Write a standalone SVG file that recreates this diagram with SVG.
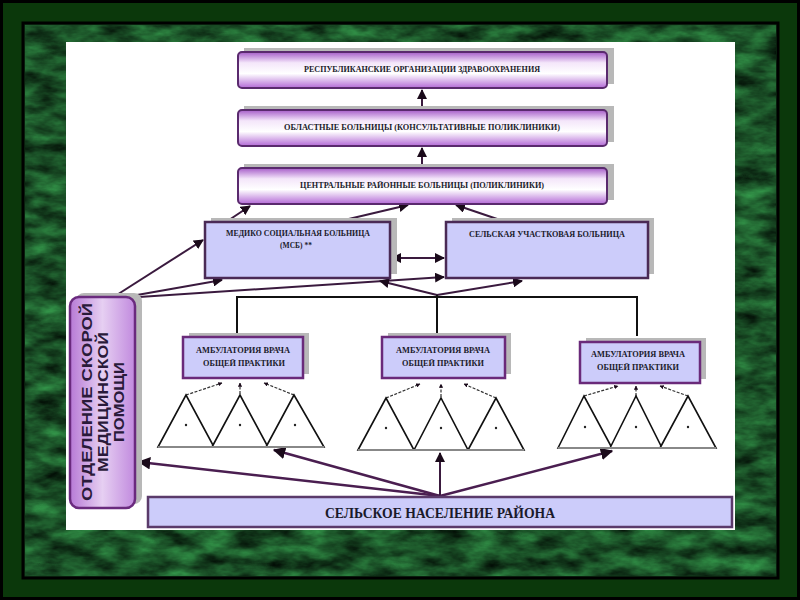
<svg xmlns="http://www.w3.org/2000/svg" width="800" height="600" viewBox="0 0 800 600">
<defs>
  <filter id="marble" x="0" y="0" width="100%" height="100%" color-interpolation-filters="sRGB">
    <feTurbulence type="fractalNoise" baseFrequency="0.03 0.07" numOctaves="4" seed="7" result="n"/>
    <feColorMatrix in="n" type="matrix" values="0.25 0 0 0 -0.02  0.7 0 0 0 -0.03  0.35 0 0 0 -0.02  0 0 0 0 1"/>
  </filter>
  <linearGradient id="gPurp" x1="0" y1="0" x2="0" y2="1">
    <stop offset="0" stop-color="#a55cc8"/>
    <stop offset="0.3" stop-color="#f4e6fa"/>
    <stop offset="0.6" stop-color="#ffffff"/>
    <stop offset="1" stop-color="#b36ad6"/>
  </linearGradient>
  <linearGradient id="gSide" x1="0" y1="0" x2="1" y2="0">
    <stop offset="0" stop-color="#b77ad6"/>
    <stop offset="0.5" stop-color="#e6cff2"/>
    <stop offset="1" stop-color="#c18ade"/>
  </linearGradient>
  <marker id="ah" viewBox="0 0 10 10" refX="9" refY="5" markerWidth="5" markerHeight="5" orient="auto-start-reverse">
    <path d="M0,0 L10,5 L0,10 z" fill="#1a0a1a"/>
  </marker>
  <marker id="ahs" viewBox="0 0 10 10" refX="9" refY="5" markerWidth="3.5" markerHeight="3.5" orient="auto-start-reverse">
    <path d="M0,0 L10,5 L0,10 z" fill="#1a0a1a"/>
  </marker>
</defs>
<style>
  .grad{fill:url(#gPurp);stroke:#5a2a6e;stroke-width:2}
  .lav{fill:#ccccfa;stroke:#4a2a55;stroke-width:2.5}
  .shadow{fill:#b8b8b8}
  .t{font-family:"Liberation Serif",serif;font-weight:bold;fill:#1a1a2a;text-anchor:middle}
  .s{font-size:7.5px}
  .conn{stroke:#3a1a3e;stroke-width:2;fill:none}
  .bus{stroke:#111;stroke-width:2;fill:none}
  .pop{stroke:#4a1e50;stroke-width:2.5;fill:none}
  .tri{fill:#fff;stroke:#111;stroke-width:1.6}
  .dash{stroke:#333;stroke-width:1.2;stroke-dasharray:3 1.5;fill:none}
</style>
<rect x="0" y="0" width="800" height="600" fill="#0b380b"/>
<rect x="1.5" y="1.5" width="797" height="597" fill="none" stroke="#000" stroke-width="3"/>
<rect x="23" y="23" width="755" height="555" fill="#123d1a" stroke="#000" stroke-width="3"/>
<rect x="25" y="25" width="751" height="551" filter="url(#marble)"/>
<rect x="66" y="42" width="669" height="488" fill="#ffffff"/>

<g id="connectors">
  <line class="conn" x1="422" y1="109" x2="422" y2="90" marker-end="url(#ah)"/>
  <line class="conn" x1="422" y1="167" x2="422" y2="148" marker-end="url(#ah)"/>
  <line class="conn" x1="226" y1="222" x2="250" y2="206" marker-end="url(#ah)"/>
  <line class="conn" x1="336" y1="222" x2="408" y2="205" marker-end="url(#ah)"/>
  <line class="conn" x1="506" y1="222" x2="456" y2="205" marker-end="url(#ah)"/>
  <line class="conn" x1="392" y1="258" x2="444" y2="258" marker-start="url(#ah)" marker-end="url(#ah)" stroke-width="1.3"/>
  <line class="conn" x1="112" y1="298" x2="203" y2="240" marker-end="url(#ah)"/>
  <line class="conn" x1="120" y1="298" x2="222" y2="280" marker-end="url(#ah)"/>
  <line class="conn" x1="124" y1="298" x2="444" y2="277" marker-end="url(#ah)"/>
  <line class="conn" x1="437" y1="295" x2="380" y2="281" marker-end="url(#ah)"/>
  <line class="conn" x1="437" y1="295" x2="522" y2="281" marker-end="url(#ah)"/>
  <polyline class="bus" points="237,336 237,297 637,297 637,336"/>
  <line class="bus" x1="437" y1="295" x2="437" y2="336"/>
  <line class="dash" x1="186" y1="395" x2="222" y2="383" marker-end="url(#ahs)"/>
  <line class="dash" x1="240" y1="394" x2="240" y2="383" marker-end="url(#ahs)"/>
  <line class="dash" x1="294" y1="395" x2="264" y2="383" marker-end="url(#ahs)"/>
  <line class="dash" x1="386" y1="398" x2="420" y2="384" marker-end="url(#ahs)"/>
  <line class="dash" x1="441" y1="397" x2="441" y2="384" marker-end="url(#ahs)"/>
  <line class="dash" x1="496" y1="398" x2="464" y2="384" marker-end="url(#ahs)"/>
  <line class="dash" x1="584" y1="396" x2="618" y2="386" marker-end="url(#ahs)"/>
  <line class="dash" x1="636" y1="396" x2="636" y2="386" marker-end="url(#ahs)"/>
  <line class="dash" x1="688" y1="396" x2="660" y2="386" marker-end="url(#ahs)"/>
  <line class="pop" x1="440" y1="496" x2="139" y2="462" marker-end="url(#ah)"/>
  <line class="pop" x1="440" y1="496" x2="274" y2="450" marker-end="url(#ah)"/>
  <line class="conn" x1="440" y1="496" x2="440" y2="453" marker-end="url(#ah)" stroke-width="1.5"/>
  <line class="pop" x1="440" y1="496" x2="612" y2="451" marker-end="url(#ah)"/>
</g>

<g id="n-republic">
  <rect class="shadow" x="244" y="48" width="370" height="36"/>
  <rect class="grad" x="238" y="52" width="369" height="36" rx="4"/>
  <text class="t s" x="422" y="72" textLength="236" lengthAdjust="spacingAndGlyphs">РЕСПУБЛИКАНСКИЕ ОРГАНИЗАЦИИ ЗДРАВООХРАНЕНИЯ</text>
</g>
<g id="n-oblast">
  <rect class="shadow" x="244" y="106" width="370" height="36"/>
  <rect class="grad" x="238" y="110" width="369" height="36" rx="4"/>
  <text class="t s" x="422" y="130" textLength="276" lengthAdjust="spacingAndGlyphs">ОБЛАСТНЫЕ БОЛЬНИЦЫ (КОНСУЛЬТАТИВНЫЕ ПОЛИКЛИНИКИ)</text>
</g>
<g id="n-crb">
  <rect class="shadow" x="244" y="164" width="370" height="36"/>
  <rect class="grad" x="238" y="168" width="369" height="36" rx="4"/>
  <text class="t s" x="422" y="188" textLength="244" lengthAdjust="spacingAndGlyphs">ЦЕНТРАЛЬНЫЕ РАЙОННЫЕ БОЛЬНИЦЫ (ПОЛИКЛИНИКИ)</text>
</g>
<g id="n-msb">
  <rect class="shadow" x="211" y="218" width="186" height="56"/>
  <rect class="lav" x="205" y="222" width="185" height="56"/>
  <text class="t s" x="298" y="236" textLength="144" lengthAdjust="spacingAndGlyphs">МЕДИКО СОЦИАЛЬНАЯ БОЛЬНИЦА</text>
  <text class="t s" x="296" y="248">(МСБ) **</text>
</g>
<g id="n-sub">
  <rect class="shadow" x="452" y="218" width="202" height="56"/>
  <rect class="lav" x="446" y="222" width="202" height="56"/>
  <text class="t s" x="547" y="237" textLength="156" lengthAdjust="spacingAndGlyphs">СЕЛЬСКАЯ УЧАСТКОВАЯ БОЛЬНИЦА</text>
</g>
<g id="n-amb1">
  <rect class="shadow" x="189" y="333" width="120" height="41"/>
  <rect class="lav" x="183" y="337" width="120" height="41" style="stroke:#6a2a7a"/>
  <text class="t s" x="243" y="353" textLength="94" lengthAdjust="spacingAndGlyphs">АМБУЛАТОРИЯ ВРАЧА</text>
  <text class="t s" x="244" y="366" textLength="82" lengthAdjust="spacingAndGlyphs">ОБЩЕЙ ПРАКТИКИ</text>
</g>
<g id="n-amb2">
  <rect class="shadow" x="388" y="333" width="123" height="41"/>
  <rect class="lav" x="382" y="337" width="123" height="41" style="stroke:#6a2a7a"/>
  <text class="t s" x="443" y="353" textLength="94" lengthAdjust="spacingAndGlyphs">АМБУЛАТОРИЯ ВРАЧА</text>
  <text class="t s" x="443" y="366" textLength="82" lengthAdjust="spacingAndGlyphs">ОБЩЕЙ ПРАКТИКИ</text>
</g>
<g id="n-amb3">
  <rect class="shadow" x="586" y="338" width="120" height="41"/>
  <rect class="lav" x="580" y="342" width="120" height="41" style="stroke:#6a2a7a"/>
  <text class="t s" x="638" y="357" textLength="94" lengthAdjust="spacingAndGlyphs">АМБУЛАТОРИЯ ВРАЧА</text>
  <text class="t s" x="638" y="370" textLength="82" lengthAdjust="spacingAndGlyphs">ОБЩЕЙ ПРАКТИКИ</text>
</g>

<g id="n-tri1">
  <polygon class="tri" points="158,447 186,395 214,447"/>
  <polygon class="tri" points="212,447 240,395 268,447"/>
  <polygon class="tri" points="266,447 294,395 324,447"/>
  <line x1="158" y1="447" x2="324" y2="447" stroke="#888" stroke-width="2"/>
  <circle cx="186" cy="425" r="1.2" fill="#222"/><circle cx="240" cy="425" r="1.2" fill="#222"/><circle cx="295" cy="425" r="1.2" fill="#222"/>
</g>
<g id="n-tri2">
  <polygon class="tri" points="358,450 386,398 414,450"/>
  <polygon class="tri" points="414,450 441,398 468,450"/>
  <polygon class="tri" points="468,450 496,398 524,450"/>
  <line x1="358" y1="450" x2="524" y2="450" stroke="#888" stroke-width="2"/>
  <circle cx="386" cy="428" r="1.2" fill="#222"/><circle cx="441" cy="428" r="1.2" fill="#222"/><circle cx="496" cy="428" r="1.2" fill="#222"/>
</g>
<g id="n-tri3">
  <polygon class="tri" points="558,448 584,396 612,448"/>
  <polygon class="tri" points="610,448 636,396 662,448"/>
  <polygon class="tri" points="660,448 688,396 716,448"/>
  <line x1="558" y1="448" x2="716" y2="448" stroke="#888" stroke-width="2"/>
  <circle cx="585" cy="427" r="1.2" fill="#222"/><circle cx="636" cy="427" r="1.2" fill="#222"/><circle cx="688" cy="427" r="1.2" fill="#222"/>
</g>

<g id="n-ambulance">
  <rect class="shadow" x="76" y="293" width="66" height="211" rx="8"/>
  <rect x="70" y="297" width="65" height="211" rx="9" fill="url(#gSide)" stroke="#6a2a7e" stroke-width="2.5"/>
  <g transform="translate(103,402) rotate(-90)" font-family="Liberation Sans, Arial, sans-serif" font-weight="bold" font-size="14" fill="#2a1a3a" text-anchor="middle">
    <text x="0" y="-11" textLength="198" lengthAdjust="spacingAndGlyphs">ОТДЕЛЕНИЕ СКОРОЙ</text>
    <text x="0" y="5" textLength="140" lengthAdjust="spacingAndGlyphs">МЕДИЦИНСКОЙ</text>
    <text x="0" y="21" textLength="80" lengthAdjust="spacingAndGlyphs">ПОМОЩИ</text>
  </g>
</g>
<g id="n-population">
  <rect x="148" y="497" width="584" height="30" fill="#ccccfa" stroke="#5a3a6a" stroke-width="2.5"/>
  <text class="t" x="440" y="518" font-size="15" textLength="230" lengthAdjust="spacingAndGlyphs">СЕЛЬСКОЕ НАСЕЛЕНИЕ РАЙОНА</text>
</g>
</svg>
